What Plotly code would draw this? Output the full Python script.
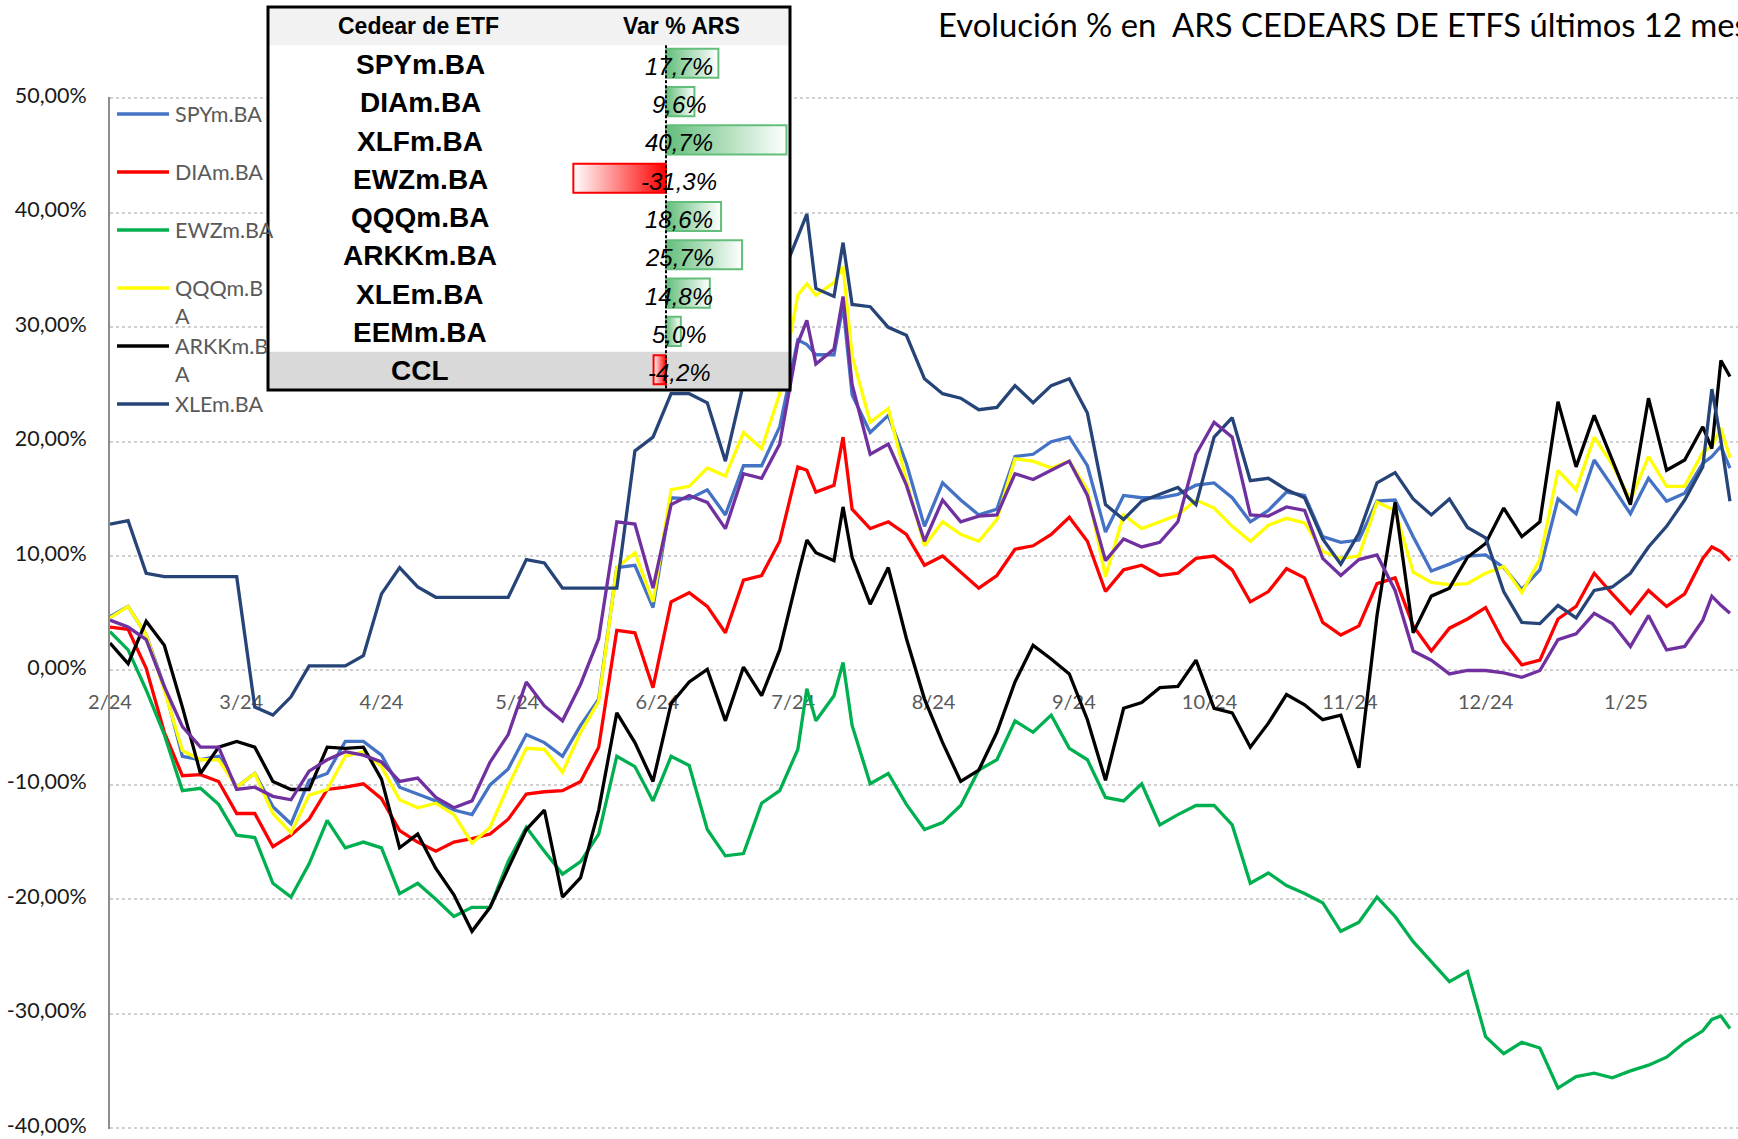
import plotly.graph_objects as go
import pandas as pd

# ---------------- DATA ----------------
dates = [
    "2024-02-01", "2024-02-05", "2024-02-09", "2024-02-13", "2024-02-17", "2024-02-21", "2024-02-25", "2024-02-29",
    "2024-03-04", "2024-03-08", "2024-03-12", "2024-03-16", "2024-03-20", "2024-03-24", "2024-03-28",
    "2024-04-01", "2024-04-05", "2024-04-09", "2024-04-13", "2024-04-17", "2024-04-21", "2024-04-25", "2024-04-29",
    "2024-05-03", "2024-05-07", "2024-05-11", "2024-05-15", "2024-05-19", "2024-05-23", "2024-05-27", "2024-05-31",
    "2024-06-04", "2024-06-08", "2024-06-12", "2024-06-16", "2024-06-20", "2024-06-24", "2024-06-28",
    "2024-07-02", "2024-07-04", "2024-07-06", "2024-07-10", "2024-07-12", "2024-07-14", "2024-07-18", "2024-07-22",
    "2024-07-26", "2024-07-30",
    "2024-08-03", "2024-08-07", "2024-08-11", "2024-08-15", "2024-08-19", "2024-08-23", "2024-08-27", "2024-08-31",
    "2024-09-04", "2024-09-08", "2024-09-12", "2024-09-16", "2024-09-20", "2024-09-24", "2024-09-28",
    "2024-10-02", "2024-10-06", "2024-10-10", "2024-10-14", "2024-10-18", "2024-10-22", "2024-10-26", "2024-10-30",
    "2024-11-03", "2024-11-07", "2024-11-11", "2024-11-15", "2024-11-19", "2024-11-23", "2024-11-27",
    "2024-12-01", "2024-12-05", "2024-12-09", "2024-12-13", "2024-12-17", "2024-12-21", "2024-12-25", "2024-12-29",
    "2025-01-02", "2025-01-06", "2025-01-10", "2025-01-14", "2025-01-18", "2025-01-20", "2025-01-22", "2025-01-24",
]

spy = [4.7, 5.6, 3.1, -1.4, -7.5, -7.8, -7.5, -10.2,
       -9.0, -11.9, -13.4, -9.6, -9.0, -6.2, -6.2,
       -7.4, -10.2, -10.8, -11.4, -12.2, -12.6, -10.0, -8.6,
       -5.6, -6.3, -7.5, -4.8, -2.5, 9.0, 9.2, 5.5,
       15.1, 15.0, 15.8, 13.6, 17.9, 17.9, 21.3,
       28.9, 28.5, 27.6, 27.6, 31.9, 24.1, 20.8, 22.3, 18.1, 12.6,
       16.4, 14.9, 13.6, 14.1, 18.7, 18.9, 20.0, 20.4,
       17.9, 12.1, 15.3, 15.1, 15.1, 15.4, 16.2,
       16.4, 15.1, 13.0, 14.0, 15.6, 15.3, 11.7, 11.2,
       11.4, 14.8, 14.9, 11.7, 8.7, 9.3, 10.0,
       10.1, 9.0, 7.1, 8.8, 15.0, 13.7, 18.4, 16.1,
       13.7, 16.8, 14.8, 15.5, 18.1, 18.7, 19.6, 17.7]

dia = [3.8, 3.6, 0.2, -5.4, -9.2, -9.1, -9.7, -12.5,
       -12.5, -15.4, -14.4, -13.0, -10.4, -10.2, -9.9,
       -11.2, -14.0, -15.0, -15.8, -15.0, -14.7, -14.3, -13.0,
       -10.8, -10.6, -10.5, -9.7, -6.7, 3.5, 3.3, -1.5,
       6.0, 6.8, 5.6, 3.3, 7.9, 8.3, 11.3,
       17.8, 17.5, 15.6, 16.2, 20.4, 14.1, 12.4, 13.0, 11.9, 9.2,
       10.0, 8.6, 7.2, 8.3, 10.6, 10.9, 11.9, 13.4,
       11.3, 6.9, 8.8, 9.2, 8.3, 8.5, 9.8,
       10.0, 8.8, 6.0, 6.9, 8.9, 8.1, 4.2, 3.1,
       3.9, 7.6, 8.1, 3.9, 1.7, 3.7, 4.5,
       5.5, 2.5, 0.5, 0.9, 4.5, 5.6, 8.5, 6.7,
       5.0, 7.0, 5.6, 6.7, 9.8, 10.8, 10.4, 9.6]

ewz = [3.4, 1.8, -1.7, -5.6, -10.5, -10.3, -11.7, -14.4,
       -14.6, -18.6, -19.8, -16.9, -13.1, -15.5, -15.0,
       -15.5, -19.5, -18.6, -20.0, -21.5, -20.7, -20.7, -16.7,
       -13.7, -15.8, -17.8, -16.7, -14.3, -7.5, -8.4, -11.4,
       -7.5, -8.3, -13.9, -16.2, -16.0, -11.6, -10.5,
       -6.9, -1.6, -4.4, -2.2, 0.7, -4.8, -9.9, -9.0, -11.7, -13.9,
       -13.3, -11.8, -8.7, -7.8, -4.4, -5.4, -3.9, -6.8,
       -7.8, -11.1, -11.4, -9.9, -13.5, -12.6, -11.8,
       -11.8, -13.5, -18.6, -17.7, -18.8, -19.5, -20.3, -22.8,
       -22.0, -19.8, -21.5, -23.7, -25.5, -27.2, -26.3,
       -32.0, -33.5, -32.5, -33.0, -36.5, -35.5, -35.2, -35.6,
       -35.0, -34.5, -33.8, -32.5, -31.5, -30.5, -30.2, -31.3]

qqq = [4.6, 5.6, 3.1, -1.7, -7.0, -7.8, -7.8, -10.2,
       -9.0, -12.5, -14.2, -10.9, -10.4, -7.5, -7.1,
       -8.4, -11.3, -12.0, -11.6, -12.6, -15.1, -13.7, -10.1,
       -6.8, -6.9, -8.9, -5.4, -2.7, 9.0, 10.3, 6.0,
       15.8, 16.1, 17.7, 17.0, 20.8, 19.4, 24.2,
       32.8, 33.8, 32.8, 33.9, 35.3, 27.5, 21.7, 22.9, 16.6, 10.9,
       13.0, 11.9, 11.3, 13.2, 18.5, 18.3, 17.7, 18.3,
       15.8, 8.2, 13.6, 12.4, 13.0, 13.6, 14.9,
       14.2, 12.6, 11.3, 12.7, 13.3, 12.9, 10.4, 9.8,
       10.0, 14.7, 14.0, 8.6, 7.7, 7.5, 7.6,
       8.5, 9.1, 6.8, 9.7, 17.5, 15.8, 20.4, 18.0,
       14.9, 18.7, 16.1, 16.1, 19.1, 19.6, 21.2, 18.6]

arkk = [2.4, 0.6, 4.3, 2.2, -3.2, -9.0, -6.7, -6.2,
        -6.7, -9.7, -10.4, -10.4, -6.7, -6.8, -6.7,
        -9.5, -15.5, -14.3, -17.3, -19.6, -22.8, -20.7, -17.3,
        -13.9, -12.2, -19.8, -18.1, -12.2, -3.7, -6.3, -9.7,
        -2.9, -1.0, 0.1, -4.4, 0.3, -2.2, 1.8,
        8.3, 11.4, 10.3, 9.6, 14.3, 9.9, 5.8, 9.0, 2.8, -2.5,
        -6.3, -9.7, -8.7, -5.4, -1.0, 2.2, 1.0, -0.3,
        -4.3, -9.6, -3.3, -2.8, -1.5, -1.4, 0.9,
        -3.3, -3.7, -6.7, -4.6, -2.1, -3.0, -4.3, -3.9,
        -8.5, 4.8, 14.7, 3.3, 6.5, 7.2, 9.9,
        11.1, 14.2, 11.7, 13.0, 23.5, 17.8, 22.3, 18.4,
        14.5, 23.8, 17.5, 18.4, 21.3, 19.4, 27.1, 25.7]

xle = [12.8, 13.1, 8.5, 8.2, 8.2, 8.2, 8.2, 8.2,
       -3.2, -3.9, -2.3, 0.4, 0.4, 0.4, 1.3,
       6.7, 9.0, 7.3, 6.4, 6.4, 6.4, 6.4, 6.4,
       9.7, 9.4, 7.2, 7.2, 7.2, 7.2, 19.2, 20.4,
       24.2, 24.2, 23.4, 18.3, 25.1, 30.0, 34.0,
       38.0, 39.9, 33.4, 32.7, 37.4, 32.0, 31.8, 30.0, 29.3, 25.5,
       24.2, 23.8, 22.8, 23.0, 24.9, 23.4, 24.9, 25.5,
       22.5, 14.5, 13.2, 14.8, 15.4, 16.0, 14.5,
       20.4, 22.1, 16.6, 16.8, 15.8, 15.1, 11.5, 9.3,
       12.0, 16.4, 17.3, 15.0, 13.6, 15.0, 12.5,
       11.6, 6.9, 4.2, 4.1, 5.7, 4.6, 7.0, 7.3,
       8.5, 10.8, 12.6, 14.9, 17.8, 24.6, 20.1, 14.8]

eem = [4.4, 3.8, 2.7, -1.4, -4.9, -6.7, -6.7, -10.4,
       -10.2, -11.0, -11.3, -8.8, -7.8, -7.1, -7.4,
       -8.0, -9.7, -9.4, -11.1, -12.0, -11.4, -8.0, -5.6,
       -1.0, -3.1, -4.4, -1.2, 2.8, 13.0, 12.8, 7.2,
       14.5, 15.3, 14.7, 12.4, 17.2, 16.8, 19.8,
       28.6, 30.6, 26.8, 28.1, 32.7, 25.0, 18.9, 19.8, 16.2, 11.3,
       14.9, 13.0, 13.5, 13.6, 17.2, 16.7, 17.5, 18.3,
       15.3, 9.6, 11.5, 10.8, 11.2, 13.0, 18.9,
       21.7, 20.4, 13.6, 13.5, 14.3, 14.0, 9.8, 8.3,
       9.7, 10.1, 7.0, 1.7, 0.9, -0.3, 0.0,
       0.0, -0.2, -0.6, 0.0, 2.7, 3.2, 5.0, 4.1,
       2.1, 4.8, 1.8, 2.1, 4.4, 6.5, 5.7, 5.0]

series_names = ["SPYm.BA", "DIAm.BA", "EWZm.BA", "QQQm.BA", "ARKKm.BA", "XLEm.BA", "EEMm.BA"]
series_values = [spy, dia, ewz, qqq, arkk, xle, eem]
series_colors = ["#4472C4", "#FF0000", "#00B050", "#FFFF00", "#000000", "#264478", "#7030A0"]

legend_labels = ["SPYm.BA", "DIAm.BA", "EWZm.BA", "QQQm.B<br>A", "ARKKm.B<br>A", "XLEm.BA"]

table_names = ["SPYm.BA", "DIAm.BA", "XLFm.BA", "EWZm.BA", "QQQm.BA", "ARKKm.BA", "XLEm.BA", "EEMm.BA", "CCL"]
table_values = [17.7, 9.6, 40.7, -31.3, 18.6, 25.7, 14.8, 5.0, -4.2]
table_headers = ["Cedear de ETF", "Var % ARS"]

ytick_vals = [50, 40, 30, 20, 10, 0, -10, -20, -30, -40]
ytick_text = ["50,00%", "40,00%", "30,00%", "20,00%", "10,00%", "0,00%",
              "-10,00%", "-20,00%", "-30,00%", "-40,00%"]
xtick_vals = ["2024-02-01", "2024-03-01", "2024-04-01", "2024-05-01", "2024-06-01", "2024-07-01",
              "2024-08-01", "2024-09-01", "2024-10-01", "2024-11-01", "2024-12-01", "2025-01-01"]
xtick_text = ["2/24", "3/24", "4/24", "5/24", "6/24", "7/24", "8/24", "9/24", "10/24", "11/24", "12/24", "1/25"]

title_text = "Evolución % en  ARS CEDEARS DE ETFS últimos 12 meses"

# ---------------- GEOMETRY ----------------
W, H = 1738, 1139


def px(x):
    return x / W


def py(y):
    return 1 - y / H


X0_PX = 110
PX_PER_DAY = 4.525
x_start = pd.Timestamp("2024-02-01")
x_end = x_start + pd.Timedelta(days=(W - X0_PX) / PX_PER_DAY)

ZERO_PX = 670.5          # pixel row of 0 %
PX_PER_PCT = 11.44       # pixels per 1 %
Y_MIN, Y_MAX = -40.1, 50.1
y_dom = [py(ZERO_PX - Y_MIN * PX_PER_PCT), py(ZERO_PX - Y_MAX * PX_PER_PCT)]
zero_pos = py(ZERO_PX)

# table
TX0, TX1, TY0, TY1 = 268, 790, 7, 390
T_AXIS, T_SCALE = 666, 2.96
x2_range = [(TX0 - T_AXIS) / T_SCALE, (TX1 - T_AXIS) / T_SCALE]

FONT_CAL = "Lato, 'Open Sans', sans-serif"
FONT_ARIAL = "'Liberation Sans', Arial, sans-serif"

fig = go.Figure()

for name, vals, col in zip(series_names, series_values, series_colors):
    fig.add_trace(go.Scatter(x=dates, y=vals, name=name, mode="lines",
                             line=dict(color=col, width=3.3), showlegend=False,
                             xaxis="x", yaxis="y", hoverinfo="skip"))

# table row backgrounds
n_rows = len(table_names)
for r0, r1, col in [(-1.5, -0.5, "#F2F2F2"), (n_rows - 1.5, n_rows - 0.5, "#D9D9D9")]:
    fig.add_trace(go.Scatter(x=[x2_range[0], x2_range[1], x2_range[1], x2_range[0], x2_range[0]],
                             y=[r0, r0, r1, r1, r0], mode="lines", fill="toself",
                             fillcolor=col, line=dict(width=0), showlegend=False,
                             xaxis="x2", yaxis="y2", hoverinfo="skip"))

# data bars
BT, BB = -0.41, 0.35
for i, v in enumerate(table_values):
    pos = v >= 0
    col = "#63BE7B" if pos else "#FF0000"
    cs = [[0, "#63BE7B"], [1, "#FFFFFF"]] if pos else [[0, "#FFFFFF"], [1, "#FF0000"]]
    fig.add_trace(go.Scatter(x=[0, v, v, 0, 0], y=[i + BT, i + BT, i + BB, i + BB, i + BT],
                             mode="lines", fill="toself",
                             fillgradient=dict(type="horizontal", colorscale=cs),
                             line=dict(color=col, width=2), showlegend=False,
                             xaxis="x2", yaxis="y2", hoverinfo="skip"))

annotations = []
shapes = []

# table texts
annotations.append(dict(text="<b>%s</b>" % table_headers[0], x=px(418), y=-1, xref="paper", yref="y2",
                        xanchor="center", yanchor="middle",
                        showarrow=False, font=dict(family=FONT_ARIAL, size=23, color="#000000")))
annotations.append(dict(text="<b>%s</b>" % table_headers[1], x=px(681), y=-1, xref="paper", yref="y2",
                        xanchor="center", yanchor="middle",
                        showarrow=False, font=dict(family=FONT_ARIAL, size=23, color="#000000")))
for i, (nm, v) in enumerate(zip(table_names, table_values)):
    annotations.append(dict(text="<b>%s</b>" % nm, x=px(420), y=i, xref="paper", yref="y2",
                            xanchor="center", yanchor="middle",
                            showarrow=False, font=dict(family=FONT_ARIAL, size=28, color="#000000")))
    vt = ("%.1f" % v).replace(".", ",") + "%"
    annotations.append(dict(text="<i>%s</i>" % vt, x=px(679), y=i + 0.05, xref="paper", yref="y2",
                            xanchor="center", yanchor="middle",
                            showarrow=False, font=dict(family=FONT_ARIAL, size=24, color="#000000")))

# dashed axis of data bars
shapes.append(dict(type="line", xref="x2", yref="y2", x0=0, x1=0, y0=-0.5, y1=n_rows - 0.5,
                   line=dict(color="#000000", width=2, dash="3px,2px"), layer="above"))
# table border
shapes.append(dict(type="rect", xref="paper", yref="paper", x0=px(TX0), x1=px(TX1), y0=py(TY1), y1=py(TY0),
                   line=dict(color="#000000", width=3), layer="above"))

# legend (custom)
for i, lab in enumerate(legend_labels):
    ly = 114 + 58 * i
    shapes.append(dict(type="line", xref="paper", yref="paper", x0=px(117), x1=px(169), y0=py(ly), y1=py(ly),
                       line=dict(color=series_colors[i], width=3.3)))
    annotations.append(dict(text=lab, x=px(173), y=py(ly - 15), xref="paper", yref="paper",
                            xanchor="left", yanchor="top", align="left", showarrow=False,
                            font=dict(family=FONT_CAL, size=21.5, color="#595959")))

# title
annotations.append(dict(text=title_text, x=px(936), y=py(24), xref="paper", yref="paper",
                        xanchor="left", yanchor="middle", showarrow=False,
                        font=dict(family=FONT_CAL, size=32.8, color="#000000")))

fig.update_layout(
    template="none",
    width=W, height=H, margin=dict(l=0, r=0, t=0, b=0, pad=0, autoexpand=False),
    paper_bgcolor="white", plot_bgcolor="white",
    showlegend=False,
    xaxis=dict(domain=[px(X0_PX), 1], type="date", range=[x_start, x_end], automargin=False,
               tickvals=xtick_vals, ticktext=xtick_text, showgrid=False, zeroline=False,
               showline=False, anchor="free", position=zero_pos, ticks="",
               ticklabelstandoff=17, layer="below traces", ticklabeloverflow="allow",
               tickfont=dict(family=FONT_CAL, size=20, color="#595959")),
    yaxis=dict(domain=y_dom, range=[Y_MIN, Y_MAX], tickvals=ytick_vals, ticktext=ytick_text,
               automargin=False, ticklabeloverflow="allow", ticklabelshift=-3,
               showgrid=True, gridcolor="#D0D0D0", griddash="dot", gridwidth=1.5,
               zeroline=False, showline=True, linecolor="#8C8C8C", linewidth=2,
               ticks="", ticklabelstandoff=17, anchor="x",
               tickfont=dict(family=FONT_CAL, size=21.5, color="#1A1A1A")),
    xaxis2=dict(domain=[px(TX0), px(TX1)], range=x2_range, visible=False, anchor="y2", fixedrange=True,
                automargin=False),
    yaxis2=dict(domain=[py(TY1), py(TY0)], range=[n_rows - 0.5, -1.5], visible=False, anchor="x2",
                fixedrange=True, automargin=False),
    annotations=annotations, shapes=shapes,
)

fig.write_html("out.html", config={"displayModeBar": False},
               post_script="document.body.style.margin='0';document.body.style.overflow='hidden';")
